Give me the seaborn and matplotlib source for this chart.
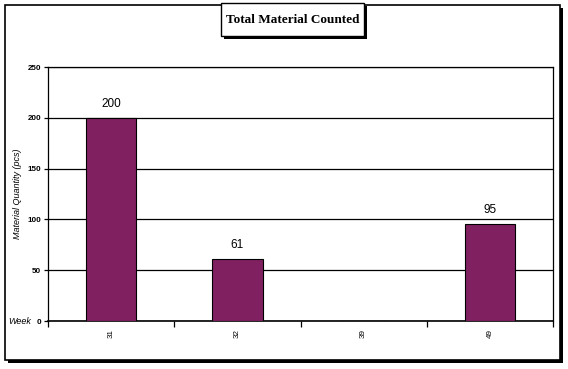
import matplotlib
matplotlib.use("Agg")
import matplotlib.pyplot as plt
import seaborn as sns
import pandas as pd
from matplotlib.patches import Rectangle
from matplotlib.ticker import FixedLocator

weeks = ["31", "32", "39", "49"]
quantities = [200, 61, 0, 95]
title = "Total Material Counted"
ylabel = "Material Quantity (pcs)"
xlabel = "Week"
yticks = [0, 50, 100, 150, 200, 250]

sns.set_style("white")
plt.rcParams['font.family'] = ['Liberation Sans', 'DejaVu Sans']
plt.rcParams['text.color'] = 'black'
plt.rcParams['xtick.color'] = 'black'
plt.rcParams['ytick.color'] = 'black'
plt.rcParams['axes.labelcolor'] = 'black'

W, H = 568, 369
fig = plt.figure(figsize=(W / 100, H / 100), dpi=100)
fig.patch.set_facecolor("white")

def fx(x):
    return x / W

def fy(y):
    return 1 - y / H

# outer frame with shadow
fig.add_artist(Rectangle((fx(8), fy(363)), fx(555), 355 / H, transform=fig.transFigure,
                         facecolor="black", edgecolor="none", zorder=0))
fig.add_artist(Rectangle((fx(5), fy(360)), fx(555), 355 / H, transform=fig.transFigure,
                         facecolor="white", edgecolor="black", linewidth=1.2, zorder=1))

ax = fig.add_axes([fx(48), fy(321), fx(553 - 48), (321 - 67) / H])
ax.set_zorder(2)
df = pd.DataFrame({"week": weeks, "qty": quantities})
sns.barplot(data=df, x="week", y="qty", order=weeks, color="#802060", width=0.4,
            edgecolor="black", linewidth=0.8, saturation=1, ax=ax, zorder=3)

ax.set_ylim(0, 250)
ax.set_xlim(-0.5, len(weeks) - 0.5)
ax.set_yticks(yticks)
ax.set_yticklabels([str(v) for v in yticks], fontsize=5.8, fontweight="bold")
ax.yaxis.grid(True, color="black", linewidth=0.9)
ax.set_axisbelow(True)
for s in ax.spines.values():
    s.set_visible(True)
    s.set_color("black")
    s.set_linewidth(0.9)
ax.spines["bottom"].set_linewidth(1.2)

ax.set_xticks(range(len(weeks)))
ax.set_xticklabels(weeks, rotation=90, fontsize=5.8)
ax.tick_params(axis="x", which="major", length=0, pad=6)
ax.xaxis.set_minor_locator(FixedLocator([i - 0.5 for i in range(len(weeks) + 1)]))
ax.tick_params(axis="x", which="minor", length=4, width=0.9, direction="out", bottom=True)
ax.tick_params(axis="y", length=3, width=0.9, direction="out", left=True, pad=2)
ax.set_xlabel("")
ax.set_ylabel("")

for i, v in enumerate(quantities):
    if v > 0:
        ax.text(i, v + 8, str(v), ha="center", va="bottom", fontsize=8.5, color="black")

fig.text(fx(18), fy(194), ylabel, fontsize=6.5, fontstyle="italic", rotation=90,
         ha="center", va="center")
fig.text(fx(8), fy(321), xlabel, fontsize=6.5, fontstyle="italic", ha="left", va="center")

# title box with shadow
fig.add_artist(Rectangle((fx(224), fy(39)), fx(143), 33 / H, transform=fig.transFigure,
                         facecolor="black", edgecolor="none", zorder=3))
fig.add_artist(Rectangle((fx(221), fy(36)), fx(143), 33 / H, transform=fig.transFigure,
                         facecolor="white", edgecolor="black", linewidth=1.0, zorder=4))
fig.text(fx(292.5), fy(20), title, ha="center", va="center", fontsize=9.5,
         fontweight="bold", family=["Liberation Serif", "DejaVu Serif"], zorder=5)

fig.savefig("out.png", dpi=100)
